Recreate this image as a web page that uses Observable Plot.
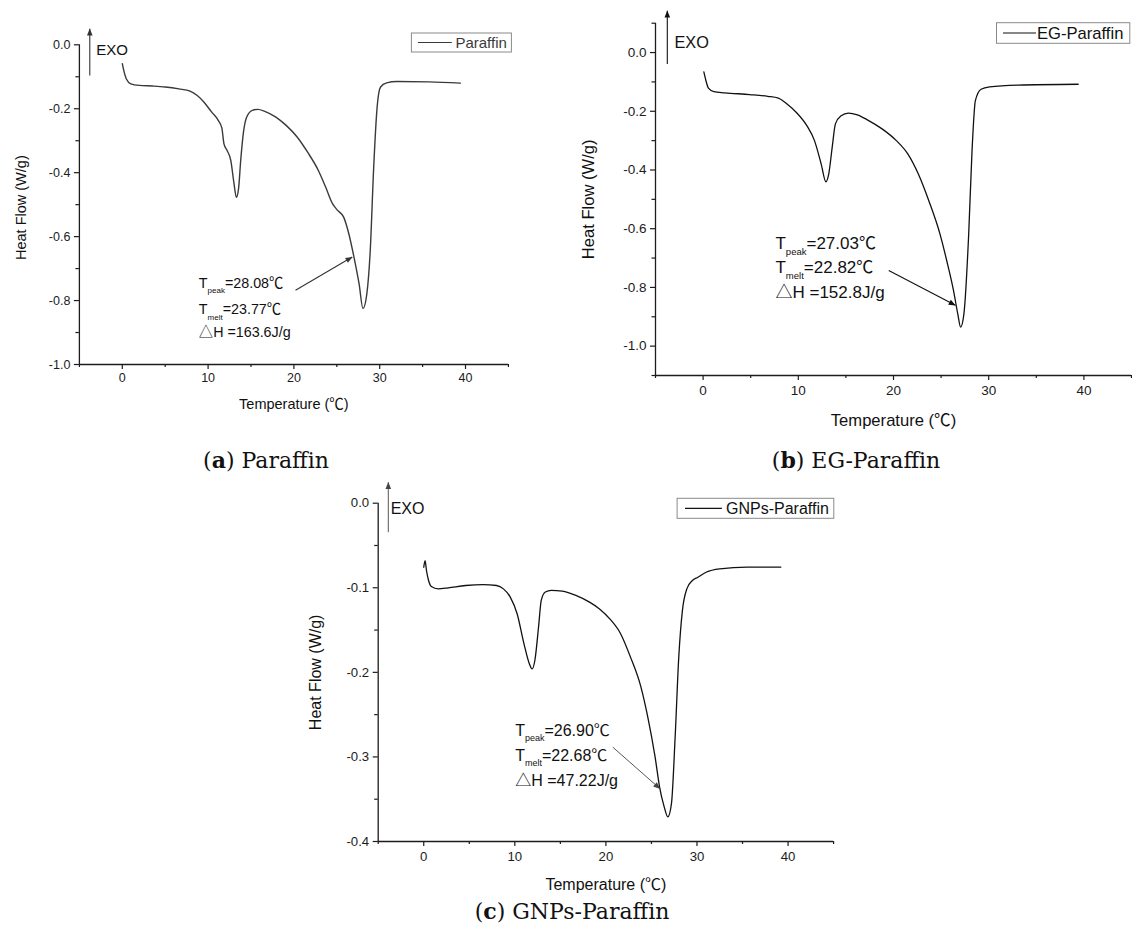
<!DOCTYPE html>
<html><head><meta charset="utf-8">
<script src="https://cdn.jsdelivr.net/npm/d3@7"></script>
<script src="https://cdn.jsdelivr.net/npm/@observablehq/plot@0.6"></script>
<style>
body{margin:0;background:#fff;width:1132px;height:929px;position:relative;overflow:hidden}
.panel{position:absolute}
.cap{position:absolute;font-family:"DejaVu Serif",serif;font-size:22px;line-height:22px;color:#111;white-space:nowrap;transform:translateX(-50%)}
</style></head><body>
<div id="pa" class="panel" style="left:0;top:0"></div>
<div id="pb" class="panel" style="left:566px;top:0"></div>
<div id="pc" class="panel" style="left:283px;top:470px"></div>
<div class="cap" style="left:266px;top:449px">(<b>a</b>) Paraffin</div>
<div class="cap" style="left:856px;top:449px">(<b>b</b>) EG-Paraffin</div>
<div class="cap" style="left:572px;top:900px">(<b>c</b>) GNPs-Paraffin</div>
<script>
// ---------- data ----------
const tempA = [0, 0.17, 0.46, 1.0, 2.0, 3.5, 5.0, 6.6, 7.9, 8.7, 9.5, 10.4, 11.2, 11.6, 11.85, 12.2, 12.65, 13.0, 13.3, 13.55, 13.8, 14.1, 14.5, 15.15, 15.8, 16.6, 17.9, 19.1, 20.4, 21.6, 22.85, 23.7, 24.5, 25.1, 25.8, 26.4, 27.0, 27.6, 28.05, 28.5, 28.9, 29.3, 29.7, 30.1, 30.8, 32.0, 35.75, 39.4];
const heatA = [-0.059, -0.080, -0.106, -0.122, -0.127, -0.129, -0.132, -0.138, -0.145, -0.158, -0.179, -0.21, -0.237, -0.26, -0.31, -0.33, -0.362, -0.43, -0.477, -0.45, -0.362, -0.278, -0.226, -0.205, -0.202, -0.208, -0.226, -0.252, -0.289, -0.336, -0.393, -0.445, -0.497, -0.518, -0.539, -0.591, -0.664, -0.748, -0.825, -0.779, -0.643, -0.383, -0.195, -0.132, -0.119, -0.115, -0.116, -0.12];

const tempB = [0.08, 0.3, 0.56, 1.13, 2.26, 4.9, 6.8, 7.9, 8.85, 9.8, 10.9, 11.7, 12.4, 12.9, 13.2, 13.56, 13.9, 14.5, 15.25, 16.2, 17.3, 18.8, 20.3, 21.5, 22.6, 23.7, 24.9, 25.6, 26.3, 26.75, 27.05, 27.4, 27.9, 28.25, 28.6, 29.2, 30.1, 33.1, 39.4];
const heatB = [-0.066, -0.096, -0.121, -0.133, -0.137, -0.143, -0.149, -0.155, -0.176, -0.204, -0.249, -0.3, -0.379, -0.44, -0.413, -0.323, -0.243, -0.215, -0.206, -0.212, -0.23, -0.26, -0.3, -0.345, -0.413, -0.504, -0.62, -0.71, -0.81, -0.89, -0.935, -0.889, -0.617, -0.334, -0.164, -0.125, -0.117, -0.111, -0.108];

const tempC = [0, 0.15, 0.3, 0.53, 0.83, 1.6, 2.7, 4.6, 6.5, 8.0, 8.75, 9.5, 10.26, 11.0, 11.6, 11.9, 12.2, 12.6, 12.9, 13.35, 14.0, 15.2, 16.7, 18.2, 19.3, 20.45, 21.6, 22.7, 23.85, 24.6, 25.4, 25.9, 26.4, 26.8, 27.2, 27.6, 28.0, 28.4, 28.9, 29.5, 30.1, 31.0, 32.5, 35.5, 39.2];
const heatC = [-0.0757, -0.068, -0.0796, -0.0914, -0.0985, -0.1013, -0.1, -0.0973, -0.0962, -0.0973, -0.1013, -0.111, -0.131, -0.166, -0.19, -0.196, -0.186, -0.147, -0.115, -0.105, -0.103, -0.104, -0.109, -0.117, -0.125, -0.137, -0.154, -0.182, -0.2175, -0.253, -0.3, -0.336, -0.359, -0.371, -0.355, -0.277, -0.182, -0.127, -0.101, -0.0914, -0.0875, -0.0816, -0.0776, -0.0757, -0.0757];

const xMajorTicks = [0, 10, 20, 30, 40];
const xMinorTicks = [-5, 5, 15, 25, 35, 45];
const yMajorA = [0, -0.2, -0.4, -0.6, -0.8, -1.0];
const yMinorA = [-0.1, -0.3, -0.5, -0.7, -0.9];
const yMajorB = [0, -0.2, -0.4, -0.6, -0.8, -1.0];
const yMinorB = [0.1, -0.1, -0.3, -0.5, -0.7, -0.9, -1.1];
const yMajorC = [0, -0.1, -0.2, -0.3, -0.4];
const yMinorC = [-0.05, -0.15, -0.25, -0.35];

const xTitle = "Temperature (℃)";
const yTitle = "Heat Flow (W/g)";
const legendA = "Paraffin", legendB = "EG-Paraffin", legendC = "GNPs-Paraffin";

const notesA = [
  {x: 8.92, y: -0.747, label: "T_peak=28.08℃"},
  {x: 8.92, y: -0.829, label: "T_melt=23.77℃"},
  {x: 8.92, y: -0.899, label: "△H =163.6J/g"}
];
const notesB = [
  {x: 7.6, y: -0.651, label: "T_peak=27.03℃"},
  {x: 7.6, y: -0.731, label: "T_melt=22.82℃"},
  {x: 7.6, y: -0.816, label: "△H =152.8J/g"}
];
const notesC = [
  {x: 10.05, y: -0.2687, label: "T_peak=26.90℃"},
  {x: 10.05, y: -0.2982, label: "T_melt=22.68℃"},
  {x: 10.05, y: -0.3278, label: "△H =47.22J/g"}
];
const exoA = [{x: -3.04, y: -0.0156, label: "EXO"}];
const exoB = [{x: -3.01, y: 0.034, label: "EXO"}];
const exoC = [{x: -3.63, y: -0.0066, label: "EXO"}];
const arrowsA = [
  {x1: -3.79, y1: -0.096, x2: -3.79, y2: 0.05},
  {x1: 20.19, y1: -0.768, x2: 26.8, y2: -0.664}
];
const arrowsB = [
  {x1: -3.76, y1: -0.039, x2: -3.76, y2: 0.142},
  {x1: 19.5, y1: -0.742, x2: 26.5, y2: -0.861}
];
const arrowsC = [
  {x1: -3.89, y1: -0.0343, x2: -3.89, y2: 0.0248},
  {x1: 20.75, y1: -0.2884, x2: 25.94, y2: -0.3376}
];

// ---------- drawing ----------
const SANS = '"Liberation Sans", Arial, "Noto Sans CJK SC", sans-serif';
const fmt1 = d => d.toFixed(1);

const panels = [
  {el: "pa", id: "a", width: 566, height: 420, mL: 78.9, mR: 58.1, mT: 44.3, mB: 56,
   yDomain: [-1.0, 0.0], yMajor: yMajorA, yMinor: yMinorA, t: tempA, f: heatA,
   lineColor: "#3a3a3a", lineWidth: 1.4, tickFs: 12.5, xPad: 4, titleFs: 14.5, xTitleDy: 40, yTitleDx: 58.5, yTitleDy: 3,
   noteFs: 14.3, exoFs: 15, notes: notesA, exo: exoA, arrows: arrowsA, arrowColor: "#333", arrowW: 1.1,
   legend: {text: legendA, x: 411.4, y: 33, w: 100, h: 19, l1: 417.9, l2: 451.8, tx: 455.4, fs: 15, color: "#3a3a3a"}},
  {el: "pb", id: "b", width: 566, height: 440, mL: 89, mR: 1, mT: 22.7, mB: 65,
   yDomain: [-1.1, 0.1], yMajor: yMajorB, yMinor: yMinorB, t: tempB, f: heatB,
   lineColor: "#111", lineWidth: 1.3, tickFs: 13.5, xPad: 5, titleFs: 16.6, xTitleDy: 45.5, yTitleDx: 67, yTitleDy: 0,
   noteFs: 17, exoFs: 16.3, notes: notesB, exo: exoB, arrows: arrowsB, arrowColor: "#111", arrowW: 1.1,
   legend: {text: legendB, x: 430.5, y: 22.7, w: 133.3, h: 20.6, l1: 437, l2: 470, tx: 471, fs: 16.6, color: "#111"}},
  {el: "pc", id: "c", width: 580, height: 440, mL: 94.7, mR: 29.9, mT: 32.7, mB: 69,
   yDomain: [-0.4, 0.0], yMajor: yMajorC, yMinor: yMinorC, t: tempC, f: heatC,
   lineColor: "#111", lineWidth: 1.3, tickFs: 13.2, xPad: 5, titleFs: 16, xTitleDy: 43, yTitleDx: 62, yTitleDy: 0,
   noteFs: 16, exoFs: 16, notes: notesC, exo: exoC, arrows: arrowsC, arrowColor: "#444", arrowW: 0.9,
   legend: {text: legendC, x: 394.1, y: 28.3, w: 156.7, h: 20, l1: 402, l2: 438.9, tx: 443, fs: 16, color: "#111"}}
];

for (const p of panels) {
  const axisColor = "#1c1c1c";
  const svg = Plot.plot({
    width: p.width, height: p.height,
    marginLeft: p.mL, marginRight: p.mR, marginTop: p.mT, marginBottom: p.mB,
    x: {domain: [-5, 45], label: null},
    y: {domain: p.yDomain, label: null},
    style: {fontFamily: SANS, fontSize: p.tickFs + "px", color: axisColor, background: "none", overflow: "visible"},
    marks: [
      Plot.ruleX([-5], {y1: p.yDomain[0], y2: p.yDomain[1], stroke: axisColor, strokeWidth: 1.3}),
      Plot.ruleY([p.yDomain[0]], {x1: -5, x2: 45, stroke: axisColor, strokeWidth: 1.3}),
      Plot.axisX({ticks: xMajorTicks, tickSize: 5, tickPadding: p.xPad, tickFormat: d => String(d), label: null, fontSize: p.tickFs, strokeWidth: 1.2}),
      Plot.axisX({ticks: xMinorTicks, tickSize: 3, tickFormat: () => "", label: null, strokeWidth: 1.2}),
      Plot.axisY({ticks: p.yMajor, tickSize: 5, tickPadding: 4, tickFormat: fmt1, label: null, fontSize: p.tickFs, strokeWidth: 1.2}),
      Plot.axisY({ticks: p.yMinor, tickSize: 3.5, tickFormat: () => "", label: null, strokeWidth: 1.2}),
      Plot.line(p.t, {x: p.t, y: p.f, stroke: p.lineColor, strokeWidth: p.lineWidth, curve: "monotone-x"}),
      Plot.link(p.arrows, {x1: "x1", y1: "y1", x2: "x2", y2: "y2", stroke: p.arrowColor, strokeWidth: p.arrowW}),
      Plot.text(p.exo, {x: "x", y: "y", text: "label", textAnchor: "start", lineAnchor: "middle", fontSize: p.exoFs, fill: "#111"}),
      Plot.text(p.notes, {x: "x", y: "y", text: "label", textAnchor: "start", lineAnchor: "middle", fontSize: p.noteFs, fill: "#111"}),
      Plot.text([yTitle], {text: d => d, frameAnchor: "left", rotate: -90, dx: -p.yTitleDx, dy: p.yTitleDy, textAnchor: "middle", lineAnchor: "middle", fontSize: p.titleFs, fill: "#111"}),
      Plot.text([xTitle], {text: d => d, frameAnchor: "bottom", dy: p.xTitleDy, textAnchor: "middle", lineAnchor: "middle", fontSize: p.titleFs, fill: "#111"})
    ]
  });
  document.getElementById(p.el).appendChild(svg);
  const s = d3.select(svg);
  // filled arrowheads
  const mid = "ah-" + p.id;
  s.append("defs").append("marker")
    .attr("id", mid).attr("viewBox", "0 0 10 10").attr("refX", 9.5).attr("refY", 5)
    .attr("markerWidth", 8).attr("markerHeight", 7).attr("markerUnits", "userSpaceOnUse").attr("orient", "auto")
    .append("path").attr("d", "M0,1 L10,5 L0,9 Z").attr("fill", p.arrowColor);
  s.selectAll('g[aria-label="link"] path').attr("marker-end", `url(#${mid})`);
  // subscripts
  s.selectAll("text").each(function() {
    const str = this.textContent;
    const m = /^(.)_([a-z]+)(.*)$/.exec(str);
    if (!m) return;
    const fs = parseFloat(getComputedStyle(this).fontSize) || 14;
    const t = d3.select(this);
    t.text(null);
    t.append("tspan").text(m[1]);
    t.append("tspan").attr("font-size", (fs * 0.56).toFixed(2)).attr("dy", (fs * 0.36).toFixed(2)).text(m[2]);
    t.append("tspan").attr("dy", (-fs * 0.36).toFixed(2)).text(m[3]);
  });
  // legend box
  const L = p.legend;
  const g = s.append("g").attr("text-anchor", "start");
  g.append("rect").attr("x", L.x).attr("y", L.y).attr("width", L.w).attr("height", L.h)
    .attr("fill", "#fff").attr("stroke", "#8a8a8a").attr("stroke-width", 1);
  g.append("line").attr("x1", L.l1).attr("x2", L.l2).attr("y1", L.y + L.h / 2).attr("y2", L.y + L.h / 2)
    .attr("stroke", L.color).attr("stroke-width", 1.2);
  g.append("text").attr("x", L.tx).attr("y", L.y + L.h / 2).attr("dy", "0.36em").attr("text-anchor", "start")
    .attr("font-size", L.fs).attr("fill", L.color).attr("font-family", SANS).text(L.text);
}
</script>
</body></html>
